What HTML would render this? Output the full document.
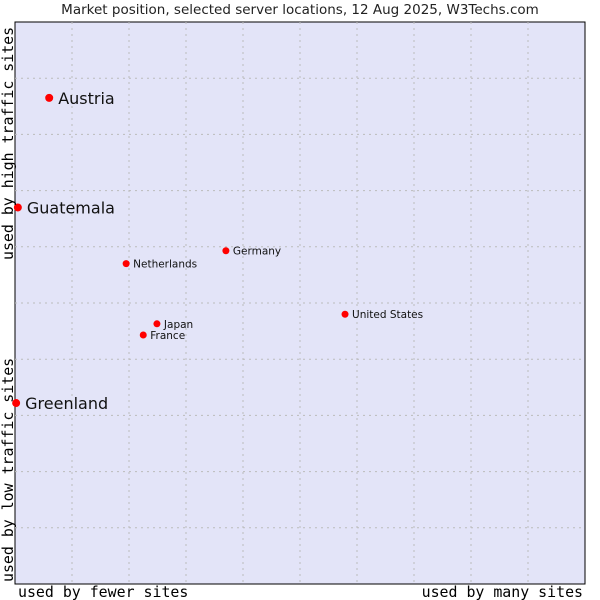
<!DOCTYPE html>
<html><head><meta charset="utf-8"><style>
body{margin:0;background:#fff;width:600px;height:600px;overflow:hidden}
svg{display:block}
</style></head><body>
<svg id="chart" width="600" height="600" xmlns="http://www.w3.org/2000/svg">
<text x="300" y="14" text-anchor="middle" font-family="DejaVu Sans, sans-serif" font-size="13.5" fill="#222">Market position, selected server locations, 12 Aug 2025, W3Techs.com</text>
<rect x="15" y="22" width="570" height="562" fill="#e3e4f8" stroke="#000" stroke-width="1"/>
<g id="grid"></g>
<g id="points"></g>
<text x="18" y="597" font-family="DejaVu Sans Mono, monospace" font-size="14.9" fill="#000">used by fewer sites</text>
<text x="583" y="597" text-anchor="end" font-family="DejaVu Sans Mono, monospace" font-size="14.9" fill="#000">used by many sites</text>
<text transform="translate(13,582) rotate(-90)" font-family="DejaVu Sans Mono, monospace" font-size="14.9" fill="#000">used by low traffic sites</text>
<text transform="translate(13,260) rotate(-90)" font-family="DejaVu Sans Mono, monospace" font-size="14.9" fill="#000">used by high traffic sites</text>
</svg>
<script>
const names=["Austria","Guatemala","Greenland","Netherlands","Germany","United States","Japan","France"];
const xVals=[6,0.5,0.2,19.5,37,57.9,24.9,22.5];
const yVals=[86.5,67,32.2,57,59.3,48,46.3,44.3];
const bigLabel=[true,true,true,false,false,false,false,false];
const L=15,T=22,W=570,H=562;
const sx=v=>L+v/100*W, sy=v=>T+H-v/100*H;
const NS="http://www.w3.org/2000/svg";
const grid=document.getElementById('grid');
for(let i=1;i<10;i++){
  const v=document.createElementNS(NS,'line');
  
  
  v.setAttribute('x1',sx(i*10));v.setAttribute('x2',sx(i*10));v.setAttribute('y1',T);v.setAttribute('y2',T+H);
  v.setAttribute('stroke','#bbbbbb');v.setAttribute('stroke-dasharray','2,4');
  grid.appendChild(v);
  const h=document.createElementNS(NS,'line');
  
  
  h.setAttribute('y1',sy(i*10));h.setAttribute('y2',sy(i*10));h.setAttribute('x1',L);h.setAttribute('x2',L+W);
  h.setAttribute('stroke','#bbbbbb');h.setAttribute('stroke-dasharray','2,4');
  grid.appendChild(h);
}
const pts=document.getElementById('points');
names.forEach((n,i)=>{
  const x=sx(xVals[i]),y=sy(yVals[i]);
  const c=document.createElementNS(NS,'circle');
  
  
  c.setAttribute('cx',x);c.setAttribute('cy',y);c.setAttribute('r',bigLabel[i]?4:3.5);c.setAttribute('fill','#f00');
  pts.appendChild(c);
  const t=document.createElementNS(NS,'text');
  
  
  t.setAttribute('x',x+(bigLabel[i]?9:7));t.setAttribute('y',y+(bigLabel[i]?6:4));
  t.setAttribute('font-family','DejaVu Sans, sans-serif');t.setAttribute('font-size',bigLabel[i]?16:10.5);t.setAttribute('fill','#111');
  t.textContent=n;
  pts.appendChild(t);
});
</script>
</body></html>
